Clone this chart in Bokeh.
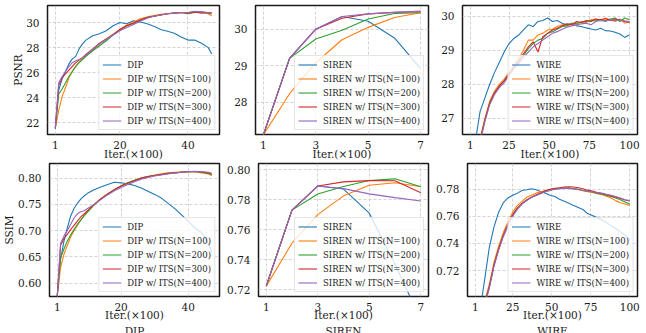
from bokeh.plotting import figure
from bokeh.layouts import column, row
from bokeh.models import FixedTicker, PrintfTickFormatter, Legend, LegendItem, Range1d
from bokeh.embed import file_html
from bokeh.resources import INLINE

FONT = "'DejaVu Serif', 'Liberation Serif', serif"
COLORS = ["#1f77b4", "#ff7f0e", "#2ca02c", "#d62728", "#9467bd"]
NS = ["100", "200", "300", "400"]
XLABEL = "Iter.(×100)"

# ---------------- DIP ----------------
dip_x = [1, 2, 3, 4, 5, 6, 7, 8, 9, 10, 12, 14, 16, 18, 20, 22, 24, 26, 28, 30, 32, 34, 36, 38, 40, 42, 44, 46, 47]
dip_psnr_base = [21.5, 24.6, 25.5, 26.1, 26.7, 27.1, 27.3, 27.9, 28.3, 28.6, 28.95, 29.1, 29.35, 29.75, 30.0, 29.9, 30.15, 30.05, 29.9, 29.7, 29.45, 29.3, 29.15, 28.85, 28.6, 28.6, 28.35, 28.0, 27.5]
dip_psnr_100 = [21.6, 23.0, 24.1, 24.8, 25.6, 26.1, 26.5, 26.85, 27.1, 27.35, 27.8, 28.3, 28.7, 29.05, 29.45, 29.8, 30.05, 30.3, 30.45, 30.55, 30.65, 30.7, 30.75, 30.8, 30.75, 30.85, 30.8, 30.7, 30.55]
dip_psnr_200 = [21.6, 24.3, 24.7, 25.2, 25.7, 26.1, 26.5, 26.8, 27.05, 27.3, 27.75, 28.15, 28.55, 29.0, 29.4, 29.75, 29.95, 30.2, 30.4, 30.5, 30.6, 30.7, 30.75, 30.8, 30.7, 30.8, 30.85, 30.75, 30.7]
dip_psnr_300 = [21.6, 25.0, 25.6, 25.9, 26.2, 26.5, 26.8, 27.0, 27.2, 27.45, 27.9, 28.35, 28.7, 29.05, 29.45, 29.75, 29.95, 30.2, 30.4, 30.5, 30.6, 30.7, 30.75, 30.8, 30.75, 30.85, 30.75, 30.8, 30.75]
dip_psnr_400 = [21.6, 25.2, 25.7, 26.1, 26.5, 26.8, 26.95, 27.05, 27.2, 27.4, 27.85, 28.3, 28.65, 29.0, 29.35, 29.6, 29.85, 30.1, 30.35, 30.5, 30.6, 30.7, 30.75, 30.8, 30.8, 30.9, 30.85, 30.8, 30.75]

dip_ssim_base = [0.575, 0.645, 0.68, 0.705, 0.728, 0.742, 0.752, 0.76, 0.766, 0.771, 0.778, 0.783, 0.788, 0.792, 0.791, 0.789, 0.786, 0.781, 0.775, 0.769, 0.762, 0.752, 0.742, 0.73, 0.718, 0.705, 0.696, 0.676, 0.658]
dip_ssim_100 = [0.575, 0.63, 0.655, 0.672, 0.688, 0.70, 0.71, 0.72, 0.729, 0.736, 0.75, 0.761, 0.77, 0.778, 0.785, 0.791, 0.796, 0.8, 0.803, 0.806, 0.808, 0.81, 0.811, 0.812, 0.812, 0.812, 0.81, 0.808, 0.805]
dip_ssim_200 = [0.575, 0.648, 0.665, 0.68, 0.692, 0.702, 0.712, 0.72, 0.728, 0.735, 0.749, 0.76, 0.77, 0.778, 0.785, 0.791, 0.796, 0.8, 0.803, 0.805, 0.807, 0.809, 0.81, 0.811, 0.812, 0.812, 0.811, 0.809, 0.806]
dip_ssim_300 = [0.575, 0.672, 0.685, 0.693, 0.702, 0.71, 0.718, 0.726, 0.732, 0.738, 0.75, 0.761, 0.77, 0.778, 0.785, 0.79, 0.795, 0.8, 0.803, 0.805, 0.807, 0.809, 0.81, 0.811, 0.812, 0.812, 0.812, 0.81, 0.808]
dip_ssim_400 = [0.575, 0.676, 0.69, 0.70, 0.712, 0.724, 0.732, 0.736, 0.738, 0.742, 0.75, 0.759, 0.768, 0.776, 0.782, 0.788, 0.793, 0.798, 0.801, 0.804, 0.806, 0.808, 0.81, 0.811, 0.812, 0.813, 0.812, 0.811, 0.809]

# ---------------- SIREN ----------------
siren_x = [1, 2, 3, 4, 5, 6, 7]
siren_psnr_base = [27.1, 29.2, 30.0, 30.35, 30.22, 29.76, 28.92]
siren_psnr_100 = [27.1, 28.23, 29.08, 29.71, 30.05, 30.32, 30.45]
siren_psnr_200 = [27.1, 29.2, 29.73, 29.97, 30.28, 30.43, 30.45]
siren_psnr_300 = [27.1, 29.2, 30.0, 30.3, 30.42, 30.46, 30.48]
siren_psnr_400 = [27.1, 29.2, 30.0, 30.35, 30.42, 30.46, 30.5]

siren_ssim_base = [0.7225, 0.773, 0.789, 0.787, 0.771, 0.737, 0.70]
siren_ssim_100 = [0.7225, 0.751, 0.770, 0.7825, 0.7895, 0.7912, 0.7886]
siren_ssim_200 = [0.7225, 0.773, 0.7837, 0.7887, 0.7927, 0.7938, 0.7886]
siren_ssim_300 = [0.7225, 0.773, 0.789, 0.7918, 0.7926, 0.7925, 0.7846]
siren_ssim_400 = [0.7225, 0.773, 0.789, 0.7873, 0.7838, 0.7813, 0.7791]

# ---------------- WIRE ----------------
wire_x = [1, 4, 7, 10, 13, 16, 19, 22, 25, 28, 31, 34, 37, 40, 43, 46, 49, 52, 55, 58, 61, 64, 67, 70, 73, 76, 79, 82, 85, 88, 91, 94, 97, 100]
wire_psnr_base = [25.2, 26.3, 27.2, 27.6, 28.0, 28.35, 28.65, 28.95, 29.2, 29.35, 29.45, 29.6, 29.75, 29.7, 29.85, 29.88, 29.95, 29.85, 29.88, 29.8, 29.75, 29.8, 29.72, 29.7, 29.66, 29.63, 29.6, 29.65, 29.58, 29.57, 29.53, 29.48, 29.38, 29.46]
wire_psnr_100 = [24.0, 25.4, 26.4, 27.0, 27.5, 27.8, 28.0, 28.15, 28.35, 28.55, 28.75, 29.0, 29.3, 29.3, 29.45, 29.5, 29.6, 29.62, 29.7, 29.75, 29.72, 29.8, 29.78, 29.85, 29.82, 29.9, 29.92, 29.88, 29.95, 29.9, 29.85, 29.92, 29.8, 29.85]
wire_psnr_200 = [23.9, 25.3, 26.35, 26.95, 27.45, 27.75, 27.95, 28.1, 28.3, 28.5, 28.65, 28.85, 29.05, 29.2, 29.3, 29.35, 29.5, 29.55, 29.62, 29.7, 29.72, 29.78, 29.8, 29.82, 29.85, 29.88, 29.87, 29.9, 29.88, 29.92, 29.95, 29.85, 29.95, 29.9]
wire_psnr_300 = [23.9, 25.35, 26.35, 26.95, 27.45, 27.75, 27.95, 28.1, 28.3, 28.5, 28.7, 28.9, 29.1, 29.25, 28.95, 29.4, 29.5, 29.6, 29.65, 29.72, 29.78, 29.75, 29.85, 29.82, 29.88, 29.85, 29.92, 29.9, 29.93, 29.88, 29.92, 29.9, 29.85, 29.82]
wire_psnr_400 = [23.8, 25.25, 26.3, 26.9, 27.4, 27.7, 27.9, 28.05, 28.25, 28.45, 28.6, 28.8, 28.95, 29.1, 29.2, 29.3, 29.4, 29.5, 29.55, 29.62, 29.68, 29.72, 29.75, 29.78, 29.8, 29.75, 29.85, 29.88, 29.85, 29.9, 29.88, 29.9, 29.87, 29.85]

wire_ssim_base = [0.66, 0.69, 0.713, 0.737, 0.752, 0.763, 0.770, 0.7735, 0.7755, 0.777, 0.779, 0.7795, 0.7802, 0.7795, 0.778, 0.777, 0.7755, 0.7745, 0.7725, 0.771, 0.7695, 0.768, 0.7665, 0.765, 0.762, 0.7605, 0.759, 0.7575, 0.7555, 0.753, 0.751, 0.7485, 0.746, 0.743]
wire_ssim_100 = [0.65, 0.676, 0.697, 0.71, 0.726, 0.738, 0.748, 0.756, 0.763, 0.768, 0.771, 0.774, 0.7755, 0.777, 0.778, 0.779, 0.7798, 0.7802, 0.7805, 0.7806, 0.7805, 0.78, 0.7795, 0.7788, 0.778, 0.7775, 0.7765, 0.776, 0.7748, 0.7735, 0.7715, 0.770, 0.769, 0.768]
wire_ssim_200 = [0.65, 0.675, 0.695, 0.708, 0.724, 0.736, 0.746, 0.754, 0.761, 0.766, 0.7695, 0.772, 0.774, 0.7755, 0.777, 0.7785, 0.7795, 0.7802, 0.7805, 0.7808, 0.7808, 0.7803, 0.7798, 0.779, 0.7785, 0.7778, 0.777, 0.7762, 0.7755, 0.7745, 0.7735, 0.7722, 0.7705, 0.769]
wire_ssim_300 = [0.65, 0.675, 0.695, 0.708, 0.724, 0.736, 0.746, 0.754, 0.761, 0.766, 0.7695, 0.772, 0.774, 0.7757, 0.7772, 0.7788, 0.7798, 0.7806, 0.781, 0.7815, 0.7817, 0.7815, 0.781, 0.7802, 0.7792, 0.7785, 0.7775, 0.7768, 0.776, 0.775, 0.774, 0.773, 0.772, 0.7712]
wire_ssim_400 = [0.65, 0.674, 0.694, 0.707, 0.723, 0.735, 0.745, 0.753, 0.76, 0.765, 0.769, 0.7715, 0.7738, 0.7752, 0.7768, 0.778, 0.779, 0.7798, 0.7802, 0.7805, 0.7805, 0.7802, 0.7798, 0.779, 0.7786, 0.778, 0.7775, 0.777, 0.7762, 0.7755, 0.7745, 0.7735, 0.7722, 0.7715]


def make_panel(name, x, series, xr, yr, xticks, yticks, yfmt, width, height,
               bl, br, bt, bb, xlab_standoff, ylabel=None, ylab_standoff=0, title=None):
    p = figure(width=width, height=height, x_range=Range1d(*xr), y_range=Range1d(*yr),
               output_backend="svg", toolbar_location=None,
               min_border_left=bl, min_border_right=br, min_border_top=bt, min_border_bottom=bb)
    p.background_fill_color = "white"
    p.border_fill_color = "white"
    p.outline_line_color = "#1a1a1a"
    p.outline_line_width = 1.5
    for ax, ticks in ((p.xaxis[0], xticks), (p.yaxis[0], yticks)):
        ax.ticker = FixedTicker(ticks=ticks)
        ax.axis_line_color = None
        ax.major_tick_line_color = None
        ax.minor_tick_line_color = None
        ax.major_label_text_font = FONT
        ax.major_label_text_font_size = "10.5px"
        ax.major_label_text_color = "#1a1a1a"
        ax.axis_label_text_font = FONT
        ax.axis_label_text_font_size = "10.5px"
        ax.axis_label_text_font_style = "normal"
        ax.axis_label_text_color = "#1a1a1a"
    p.yaxis[0].major_label_standoff = 2
    p.yaxis[0].formatter = PrintfTickFormatter(format=yfmt)
    p.xaxis[0].major_label_standoff = 0
    p.xaxis[0].axis_label = XLABEL if title is None else XLABEL + "\n" + title
    p.xaxis[0].axis_label_text_line_height = 1.35
    p.xaxis[0].axis_label_standoff = xlab_standoff
    if ylabel:
        p.yaxis[0].axis_label = ylabel
        p.yaxis[0].axis_label_standoff = ylab_standoff
    for g in (p.xgrid[0], p.ygrid[0]):
        g.grid_line_color = "#c8c8c8"
        g.grid_line_dash = "3 2"
        g.grid_line_width = 0.8
    labels = [name] + [f"{name} w/ ITS(N={n})" for n in NS]
    items = []
    for ys, lab, c in zip(series, labels, COLORS):
        r = p.line(x, ys, line_color=c, line_width=1.1)
        items.append(LegendItem(label=lab, renderers=[r]))
    leg = Legend(items=items, location="bottom_right",
                 label_text_font=FONT, label_text_font_size="8.5px", label_text_color="#1a1a1a",
                 glyph_width=19, glyph_height=11, label_height=11, spacing=3,
                 padding=3, margin=4, label_standoff=6,
                 border_line_color="#cccccc", border_line_width=1,
                 background_fill_color="white", background_fill_alpha=0.8)
    p.add_layout(leg)
    return p


W = [224, 209, 209]
BL = [47, 31, 29]
BR = [5, 5, 5]
H1, H2 = 162, 177

p1 = make_panel("DIP", dip_x, [dip_psnr_base, dip_psnr_100, dip_psnr_200, dip_psnr_300, dip_psnr_400],
                (-1.3, 49.3), (21.07, 31.36), [1, 20, 40], [22, 24, 26, 28, 30], "%d",
                W[0], H1, BL[0], BR[0], 5, 25, -4, ylabel="PSNR", ylab_standoff=-1)
p2 = make_panel("SIREN", siren_x, [siren_psnr_base, siren_psnr_100, siren_psnr_200, siren_psnr_300, siren_psnr_400],
                (0.7, 7.3), (27.11, 30.65), [1, 3, 5, 7], [28, 29, 30], "%d",
                W[1], H1, BL[1], BR[1], 5, 25, -4)
p3 = make_panel("WIRE", wire_x, [wire_psnr_base, wire_psnr_100, wire_psnr_200, wire_psnr_300, wire_psnr_400],
                (-3.95, 104.95), (26.52, 30.32), [1, 25, 50, 75, 100], [27, 28, 29, 30], "%d",
                W[2], H1, BL[2], BR[2], 5, 25, -4)
p4 = make_panel("DIP", dip_x, [dip_ssim_base, dip_ssim_100, dip_ssim_200, dip_ssim_300, dip_ssim_400],
                (-1.3, 49.3), (0.5746, 0.8278), [1, 20, 40], [0.60, 0.65, 0.70, 0.75, 0.80], "%.2f",
                W[0], H2, BL[0], BR[0], 1, 42, -5, ylabel="SSIM", ylab_standoff=0, title="DIP")
p5 = make_panel("SIREN", siren_x, [siren_ssim_base, siren_ssim_100, siren_ssim_200, siren_ssim_300, siren_ssim_400],
                (0.7, 7.3), (0.7156, 0.804), [1, 3, 5, 7], [0.72, 0.74, 0.76, 0.78, 0.80], "%.2f",
                W[1], H2, BL[1], BR[1], 1, 42, -5, title="SIREN")
p6 = make_panel("WIRE", wire_x, [wire_ssim_base, wire_ssim_100, wire_ssim_200, wire_ssim_300, wire_ssim_400],
                (-3.95, 104.95), (0.701, 0.7988), [1, 25, 50, 75, 100], [0.72, 0.74, 0.76, 0.78], "%.2f",
                W[2], H2, BL[2], BR[2], 1, 42, -5, title="WIRE")

layout = column(row(p1, p2, p3), row(p4, p5, p6))

open("out.html", "w").write(file_html(layout, INLINE))
